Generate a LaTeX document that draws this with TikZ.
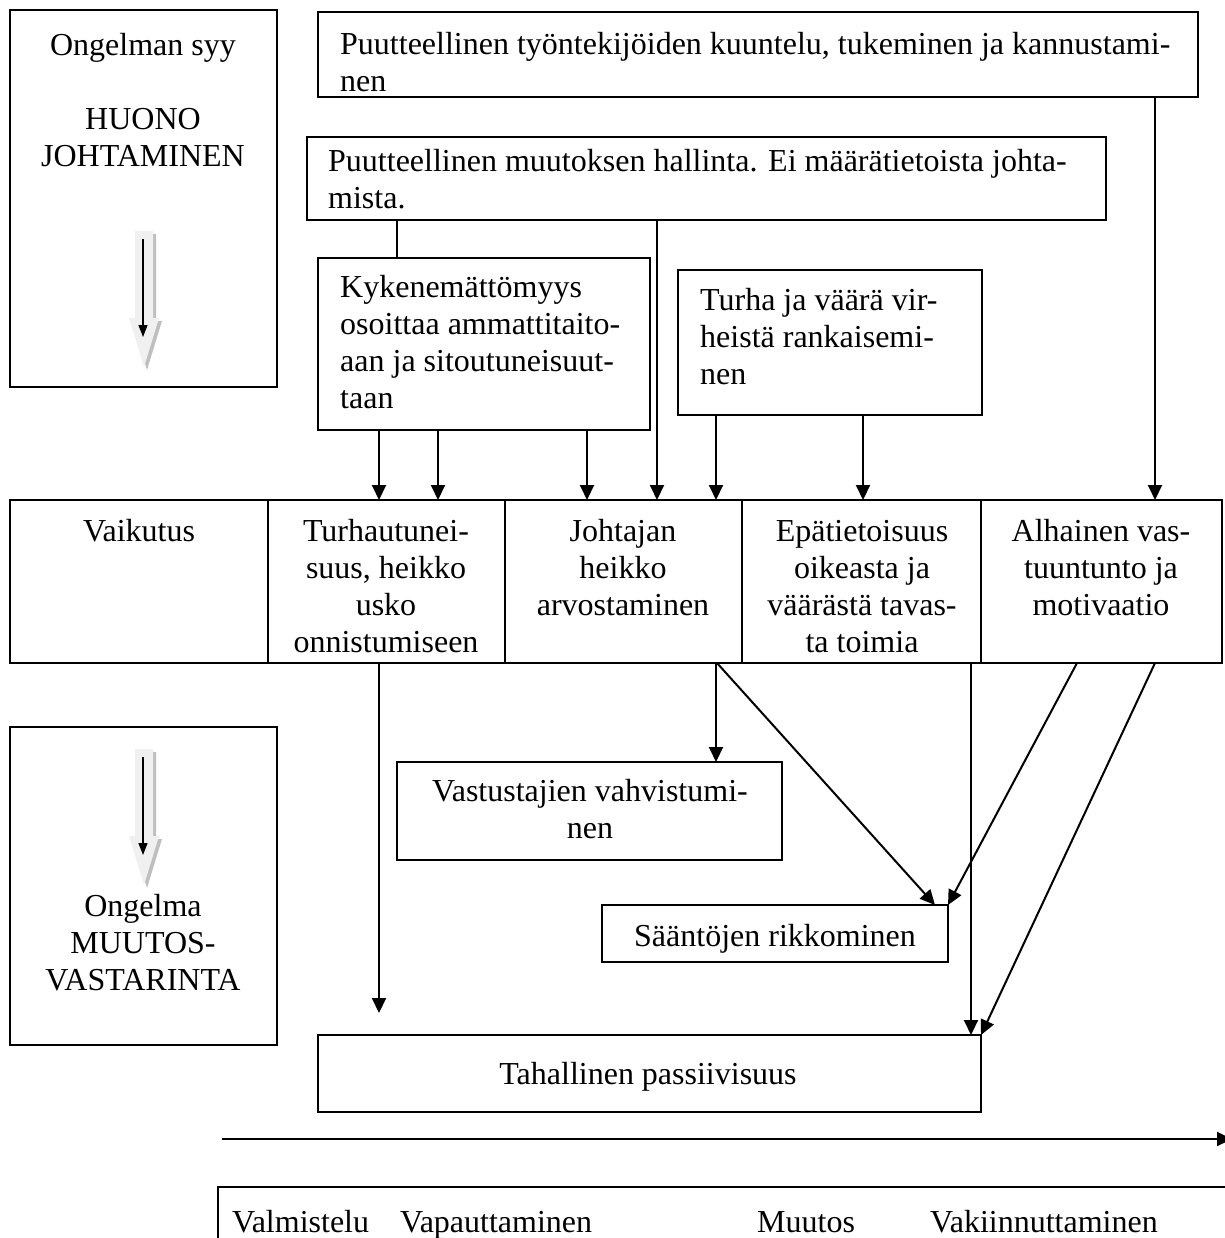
\documentclass[tikz,border=0pt]{standalone}
\usepackage{fontspec}
\setmainfont{Liberation Serif}
\usetikzlibrary{arrows.meta}
\begin{document}
\begin{tikzpicture}[x=1pt,y=-1pt,
  box/.style={draw,line width=1.9pt,inner sep=0pt,outer sep=0pt,anchor=north west},
  txt/.style={inner sep=0pt,font=\fontsize{32}{37}\selectfont},
  arr/.style={line width=2pt,-{Triangle[length=15pt,width=14pt]}},
  link/.style={line width=2pt},
  hollowarrow/.pic={
    \fill[black!25] (-6,3) -- (12,3) -- (12,90) -- (18,90) -- (3,139) -- (-12,90) -- (-6,90) -- cycle;
    \fill[black!6] (-9,0) -- (9,0) -- (9,87) -- (15,87) -- (0,136) -- (-15,87) -- (-9,87) -- cycle;
    \draw[line width=1.3pt,-{Triangle[length=12pt,width=9pt]}] (-1,8) -- (-1,106);
  }]
\useasboundingbox (0,0) rectangle (1224,1238);

% x positions used by the vertical connectors
\foreach \xx in {379,397,438,587,657,716,717,863,935,971,1077,1155}
  \coordinate (x\xx) at (\xx,0);

% multi-line labels are anchored at the baseline of their last line

% problem cause panel
\node[box,minimum width=267pt,minimum height=377pt] (cause) at (10,10) {};
\node[txt,align=center,anchor=base] (causet) at (143,167) {Ongelman syy\\[37pt]HUONO\\JOHTAMINEN};
\pic at (144,231) {hollowarrow};

% problem panel
\node[box,minimum width=267pt,minimum height=318pt] (prob) at (10,727) {};
\pic at (144,749) {hollowarrow};
\node[txt,align=center,anchor=base] (probt) at (143,990) {Ongelma\\MUUTOS-\\VASTARINTA};

% causes
\node[box,minimum width=880pt,minimum height=85pt] (b1) at (318,12) {};
\node[txt,align=left,anchor=base west] (b1t) at (340,92) {Puutteellinen työntekijöiden kuuntelu, tukeminen ja kannustami-\\nen};
\node[box,minimum width=799pt,minimum height=83pt] (b2) at (307,137) {};
\node[txt,align=left,anchor=base west] (b2t) at (328,209) {Puutteellinen muutoksen hallinta. Ei määrätietoista johta-\\mista.};
\node[box,minimum width=332pt,minimum height=172pt] (b3) at (318,258) {};
\node[txt,align=left,anchor=base west] (b3t) at (340,408) {Kykenemättömyys\\osoittaa ammattitaito-\\aan ja sitoutuneisuut-\\taan};
\node[box,minimum width=304pt,minimum height=145pt] (b4) at (678,270) {};
\node[txt,align=left,anchor=base west] (b4t) at (700,384) {Turha ja väärä vir-\\heistä rankaisemi-\\nen};

% effects row
\node[box,minimum width=258pt,minimum height=163pt] (c1) at (10,500) {};
\node[box,minimum width=237pt,minimum height=163pt] (c2) at (268,500) {};
\node[box,minimum width=237pt,minimum height=163pt] (c3) at (505,500) {};
\node[box,minimum width=239pt,minimum height=163pt] (c4) at (742,500) {};
\node[box,minimum width=241pt,minimum height=163pt] (c5) at (981,500) {};
\node[txt,align=center,anchor=base] (c1t) at (139,541) {Vaikutus};
\node[txt,align=center,anchor=base] (c2t) at (386,652) {Turhautunei-\\suus, heikko\\usko\\onnistumiseen};
\node[txt,align=center,anchor=base] (c3t) at (623,615) {Johtajan\\heikko\\arvostaminen};
\node[txt,align=center,anchor=base] (c4t) at (862,652) {Epätietoisuus\\oikeasta ja\\väärästä tavas-\\ta toimia};
\node[txt,align=center,anchor=base] (c5t) at (1101,615) {Alhainen vas-\\tuuntunto ja\\motivaatio};

% consequences
\node[box,minimum width=385pt,minimum height=98pt] (vv) at (397,762) {};
\node[txt,align=center,anchor=base] (vvt) at (590,838) {Vastustajien vahvistumi-\\nen};
\node[box,minimum width=346pt,minimum height=57pt] (sr) at (602,905) {};
\node[txt,anchor=base] (srt) at (775,946) {Sääntöjen rikkominen};
\node[box,minimum width=663pt,minimum height=77pt] (tp) at (318,1035) {};
\node[txt,anchor=base] (tpt) at (648,1084) {Tahallinen passiivisuus};

% phases
\coordinate (tl0) at (222,1139);
\coordinate (tl1) at (1232,1139);
\draw[arr] (tl0) -- (tl1);
\node[box,minimum width=1100pt,minimum height=200pt] (ph) at (218,1187) {};
\node[txt,anchor=base west] (ph1) at (232,1232) {Valmistelu};
\node[txt,anchor=base west] (ph2) at (400,1232) {Vapauttaminen};
\node[txt,anchor=base west] (ph3) at (757,1232) {Muutos};
\node[txt,anchor=base west] (ph4) at (930,1232) {Vakiinnuttaminen};

% connectors from causes to effects
\draw[link] (b2.south -| x397) -- (b3.north -| x397);
\draw[arr] (b3.south -| x379) -- (c2.north -| x379);
\draw[arr] (b3.south -| x438) -- (c2.north -| x438);
\draw[arr] (b3.south -| x587) -- (c3.north -| x587);
\draw[arr] (b2.south -| x657) -- (c3.north -| x657);
\draw[arr] (b4.south -| x716) -- (c3.north -| x716);
\draw[arr] (b4.south -| x863) -- (c4.north -| x863);
\draw[arr] (b1.south -| x1155) -- (c5.north -| x1155);

% connectors from effects to consequences
\coordinate (free) at (379,1013);
\draw[arr] (c2.south -| x379) -- (free);
\draw[arr] (c3.south -| x716) -- (vv.north -| x716);
\draw[arr] (c3.south -| x717) -- (sr.north -| x935);
\draw[arr] (c5.south -| x1077) -- (sr.north east);
\draw[arr] (c4.south -| x971) -- (tp.north -| x971);
\draw[arr] (c5.south -| x1155) -- (tp.north east);
\end{tikzpicture}
\end{document}
